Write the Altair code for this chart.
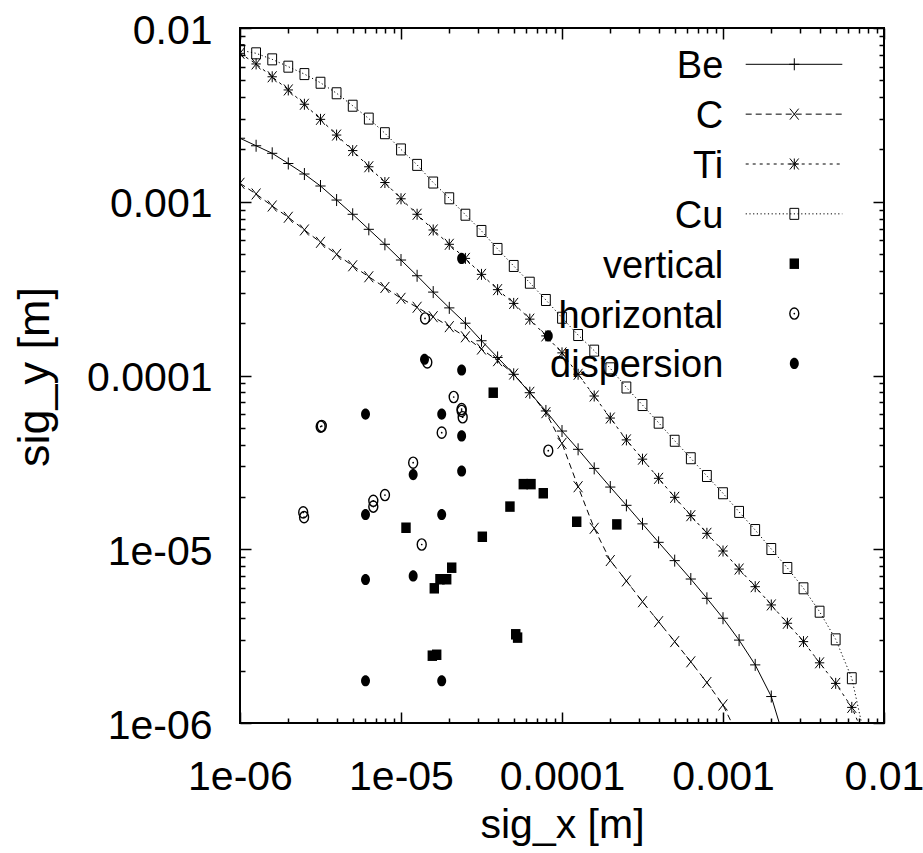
import altair as alt
import pandas as pd

# ---------------- data ----------------
x_grid = [1.000e-6, 1.259e-6, 1.585e-6, 1.995e-6, 2.512e-6, 3.162e-6, 3.981e-6, 5.012e-6, 6.310e-6, 7.943e-6,
          1.000e-5, 1.259e-5, 1.585e-5, 1.995e-5, 2.512e-5, 3.162e-5, 3.981e-5, 5.012e-5, 6.310e-5, 7.943e-5,
          1.000e-4, 1.259e-4, 1.585e-4, 1.995e-4, 2.512e-4, 3.162e-4, 3.981e-4, 5.012e-4, 6.310e-4, 7.943e-4,
          1.000e-3, 1.259e-3, 1.585e-3, 1.995e-3, 2.512e-3, 3.162e-3, 3.981e-3, 5.012e-3, 6.310e-3, 7.943e-3]

be_y = [2.32e-3, 2.10e-3, 1.90e-3, 1.66e-3, 1.444e-3, 1.232e-3, 1.023e-3, 8.47e-4, 6.94e-4, 5.69e-4,
        4.62e-4, 3.75e-4, 3.02e-4, 2.45e-4, 2.00e-4, 1.585e-4, 1.27e-4, 1.016e-4, 7.96e-5, 6.25e-5,
        4.79e-5, 3.76e-5, 2.92e-5, 2.28e-5, 1.79e-5, 1.40e-5, 1.096e-5, 8.60e-6, 6.74e-6, 5.22e-6,
        4.01e-6, 3.00e-6, 2.16e-6, 1.42e-6, 7.0e-7]

c_y = [1.277e-3, 1.108e-3, 9.45e-4, 8.14e-4, 6.88e-4, 5.84e-4, 4.98e-4, 4.28e-4, 3.70e-4, 3.21e-4,
       2.78e-4, 2.47e-4, 2.18e-4, 1.91e-4, 1.67e-4, 1.42e-4, 1.217e-4, 1.02e-4, 8.0e-5, 6.11e-5,
       4.07e-5, 2.29e-5, 1.32e-5, 8.61e-6, 6.57e-6, 4.99e-6, 3.83e-6, 2.94e-6, 2.25e-6, 1.71e-6,
       1.27e-6, 8.2e-7]

ti_y = [7.15e-3, 6.21e-3, 5.24e-3, 4.40e-3, 3.64e-3, 2.98e-3, 2.42e-3, 1.97e-3, 1.59e-3, 1.29e-3,
        1.04e-3, 8.47e-4, 6.88e-4, 5.69e-4, 4.72e-4, 3.82e-4, 3.12e-4, 2.60e-4, 2.11e-4, 1.69e-4,
        1.35e-4, 1.016e-4, 7.62e-5, 5.69e-5, 4.26e-5, 3.30e-5, 2.56e-5, 1.99e-5, 1.56e-5, 1.235e-5,
        9.77e-6, 7.69e-6, 6.09e-6, 4.78e-6, 3.75e-6, 2.94e-6, 2.22e-6, 1.69e-6, 1.23e-6, 7.47e-7]

cu_y = [7.46e-3, 7.15e-3, 6.60e-3, 5.99e-3, 5.43e-3, 4.84e-3, 4.21e-3, 3.57e-3, 3.01e-3, 2.48e-3,
        2.00e-3, 1.63e-3, 1.29e-3, 1.047e-3, 8.42e-4, 6.79e-4, 5.35e-4, 4.27e-4, 3.42e-4, 2.72e-4,
        2.15e-4, 1.71e-4, 1.39e-4, 1.10e-4, 8.53e-5, 6.76e-5, 5.35e-5, 4.21e-5, 3.34e-5, 2.64e-5,
        2.10e-5, 1.64e-5, 1.29e-5, 1.003e-5, 7.80e-6, 5.96e-6, 4.37e-6, 3.03e-6, 1.81e-6, 6.81e-7]

vertical_x = [3.74e-5, 1.074e-5, 3.20e-5, 4.75e-5, 5.75e-5, 6.42e-5, 7.65e-5, 1.234e-4, 2.19e-4,
              2.065e-5, 1.746e-5, 1.922e-5, 1.61e-5, 5.16e-5, 5.30e-5, 1.565e-5, 1.666e-5]
vertical_y = [7.96e-5, 1.33e-5, 1.18e-5, 1.76e-5, 2.37e-5, 2.37e-5, 2.10e-5, 1.44e-5, 1.39e-5,
              7.83e-6, 6.72e-6, 6.72e-6, 5.96e-6, 3.24e-6, 3.10e-6, 2.44e-6, 2.47e-6]

horizontal_x = [1.41e-5, 1.457e-5, 2.125e-5, 2.38e-5, 2.38e-5, 2.416e-5, 3.22e-6, 3.17e-6, 1.79e-5,
                1.19e-5, 7.95e-6, 6.73e-6, 6.73e-6, 2.47e-6, 2.50e-6, 1.345e-5, 8.22e-5]
horizontal_y = [2.13e-4, 1.19e-4, 7.52e-5, 6.25e-5, 6.41e-5, 5.75e-5, 5.12e-5, 5.08e-5, 4.69e-5,
                3.15e-5, 2.05e-5, 1.90e-5, 1.76e-5, 1.63e-5, 1.53e-5, 1.065e-5, 3.69e-5]

dispersion_x = [2.38e-5, 8.22e-5, 1.40e-5, 2.38e-5, 6.02e-6, 1.79e-5, 2.38e-5, 1.19e-5, 2.38e-5,
                6.02e-6, 1.79e-5, 6.02e-6, 1.19e-5, 6.02e-6, 1.79e-5]
dispersion_y = [4.72e-4, 1.69e-4, 1.24e-4, 1.076e-4, 6.0e-5, 6.0e-5, 4.49e-5, 2.69e-5, 2.82e-5,
                1.585e-5, 1.585e-5, 6.70e-6, 7.02e-6, 1.75e-6, 1.75e-6]

legend_names = ["Be", "C", "Ti", "Cu", "vertical", "horizontal", "dispersion"]
major_ticks = [1e-6, 1e-5, 1e-4, 1e-3, 1e-2]
minor_ticks = [k * 10.0 ** e for e in range(-6, -2) for k in range(2, 10)]

# ---------------- styling ----------------
W, H = 644, 695
SANS = "Liberation Sans"

PLUS = "M-0.85,0L0.85,0M0,-1L0,1"
CROSS = "M-0.8,-1L0.8,1M-0.8,1L0.8,-1"
STAR = "M-0.85,0L0.85,0M0,-1L0,1M-0.8,-1L0.8,1M-0.8,1L0.8,-1"
BOX = "M-0.8,-1L0.8,-1L0.8,1L-0.8,1Z"
FBOX = "M-0.9,-1L0.9,-1L0.9,1L-0.9,1Z"
ELL = "M0,-1A0.8,1 0 1,1 0,1A0.8,1 0 1,1 0,-1Z"

LBL = ("datum.value < 5e-6 ? '1e-06' : datum.value < 5e-5 ? '1e-05' : "
       "datum.value < 5e-4 ? '0.0001' : datum.value < 5e-3 ? '0.001' : '0.01'")


def xs():
    return alt.Scale(type="log", domain=[1e-6, 1e-2], nice=False)


def ys():
    return alt.Scale(type="log", domain=[1e-6, 1e-2], nice=False)


def tick_axis(orient, offset, values, size):
    return alt.Axis(orient=orient, offset=offset, values=values, ticks=True, tickSize=size,
                    tickWidth=1.5, tickColor="black", labels=False, domain=False, grid=False,
                    title=None)


x_main = alt.Axis(orient="bottom", values=major_ticks, labelExpr=LBL, labelFont=SANS,
                  labelFontSize=41, labelColor="black", labelPadding=34, labelBaseline="top",
                  labelFlush=False, labelOverlap=False, ticks=False, tickSize=0, domain=False,
                  grid=False, title="sig_x [m]", titleFont=SANS, titleFontSize=41,
                  titleFontWeight="normal", titleColor="black", titleX=322, titleY=114,
                  titleAlign="center", titleBaseline="alphabetic")
y_main = alt.Axis(orient="left", values=major_ticks, labelExpr=LBL, labelFont=SANS,
                  labelFontSize=41, labelColor="black", labelPadding=28, labelBaseline="middle",
                  labelAlign="right", labelOffset=3, labelOverlap=False, labelFlush=False,
                  ticks=False, tickSize=0, domain=False, grid=False, title="sig_y [m]",
                  titleFont=SANS, titleFontSize=45, titleFontWeight="normal", titleColor="black",
                  titleAngle=270, titleX=-192, titleY=348.5, titleAlign="center",
                  titleBaseline="alphabetic")

axes_pairs = [
    (x_main, y_main),
    (tick_axis("top", -H, major_ticks, 11), tick_axis("right", -W, major_ticks, 11)),
    (tick_axis("top", -H, minor_ticks, 5), tick_axis("right", -W, minor_ticks, 5)),
    (tick_axis("bottom", -H, major_ticks, 11), tick_axis("left", -W, major_ticks, 11)),
    (tick_axis("bottom", -H, minor_ticks, 5), tick_axis("left", -W, minor_ticks, 5)),
]


def enc(i=None):
    if i is None:
        xa, ya = None, None
    else:
        xa, ya = axes_pairs[i]
    return dict(x=alt.X("x:Q", scale=xs(), axis=xa), y=alt.Y("y:Q", scale=ys(), axis=ya))


def frame(xv, yv):
    return pd.DataFrame({"x": xv, "y": yv})


series = [
    ("Be", be_y, None, PLUS, 144),
    ("C", c_y, [6, 4], CROSS, 121),
    ("Ti", ti_y, [3, 4], STAR, 121),
    ("Cu", cu_y, [1.2, 2.5], BOX, 121),
]

layers = []
axis_i = 0
for name, yv, dash, shape, size in series:
    df = frame(x_grid[:len(yv)], yv)
    lkw = dict(color="black", strokeWidth=1, clip=True)
    if dash:
        lkw["strokeDash"] = dash
    a1 = axis_i if axis_i < len(axes_pairs) else None
    axis_i += 1
    a2 = axis_i if axis_i < len(axes_pairs) else None
    axis_i += 1
    layers.append(alt.Chart(df).mark_line(**lkw).encode(**enc(a1)))
    layers.append(alt.Chart(df).mark_point(shape=shape, size=size, filled=False, color="black",
                                           strokeWidth=1, opacity=1, clip=True).encode(**enc(a2)))

layers.append(alt.Chart(frame(vertical_x, vertical_y)).mark_point(
    shape=FBOX, size=110, filled=True, color="black", opacity=1).encode(**enc()))
layers.append(alt.Chart(frame(horizontal_x, horizontal_y)).mark_point(
    shape=ELL, size=125, filled=False, color="black", strokeWidth=1.4, opacity=1).encode(**enc()))
layers.append(alt.Chart(frame(horizontal_x, horizontal_y)).mark_point(
    shape="circle", size=3, filled=True, color="black", opacity=1).encode(**enc()))
layers.append(alt.Chart(frame(dispersion_x, dispersion_y)).mark_point(
    shape=ELL, size=125, filled=True, color="black", opacity=1).encode(**enc()))

# ---------------- key (legend) ----------------
ROW0, ROWSTEP = 36.3, 49.85
leg_df = pd.DataFrame({"label": legend_names, "row": list(range(len(legend_names)))})
row_y = f"{ROW0} + datum.row * {ROWSTEP}"

layers.append(alt.Chart(leg_df).transform_calculate(py=row_y, px="483.3").mark_text(
    align="right", baseline="alphabetic", dy=14, font=SANS, fontSize=38, color="black").encode(
    x=alt.X("px:Q", scale=None, axis=None), y=alt.Y("py:Q", scale=None, axis=None),
    text="label:N"))

for k, (name, yv, dash, shape, size) in enumerate(series):
    one = leg_df[leg_df["label"] == name]
    rkw = dict(color="black", strokeWidth=1)
    if dash:
        rkw["strokeDash"] = dash
    layers.append(alt.Chart(one).transform_calculate(py=row_y, xa="505.7", xb="602.3").mark_rule(
        **rkw).encode(x=alt.X("xa:Q", scale=None, axis=None), x2="xb:Q",
                      y=alt.Y("py:Q", scale=None, axis=None)))
    layers.append(alt.Chart(one).transform_calculate(py=row_y, pxm="554.3").mark_point(
        shape=shape, size=size, filled=False, color="black", strokeWidth=1, opacity=1).encode(
        x=alt.X("pxm:Q", scale=None, axis=None), y=alt.Y("py:Q", scale=None, axis=None)))

sym_specs = [("vertical", FBOX, 110, True, 1), ("horizontal", ELL, 125, False, 1.4),
             ("dispersion", ELL, 125, True, 1)]
for name, shape, size, filled, sw in sym_specs:
    one = leg_df[leg_df["label"] == name]
    layers.append(alt.Chart(one).transform_calculate(py=row_y, pxm="554.3").mark_point(
        shape=shape, size=size, filled=filled, color="black", strokeWidth=sw, opacity=1).encode(
        x=alt.X("pxm:Q", scale=None, axis=None), y=alt.Y("py:Q", scale=None, axis=None)))
    if name == "horizontal":
        layers.append(alt.Chart(one).transform_calculate(py=row_y, pxm="554.3").mark_point(
            shape="circle", size=3, filled=True, color="black", opacity=1).encode(
            x=alt.X("pxm:Q", scale=None, axis=None), y=alt.Y("py:Q", scale=None, axis=None)))

chart = alt.layer(*layers).resolve_scale(x="independent", y="independent").resolve_axis(
    x="independent", y="independent").properties(
    width=W, height=H, autosize=alt.AutoSizeParams(type="none"),
    padding={"left": 240, "top": 28, "right": 39, "bottom": 130},
    background="white").configure_view(stroke="black", strokeWidth=2)

chart.save("out.html", embed_options={"renderer": "svg", "actions": False})
